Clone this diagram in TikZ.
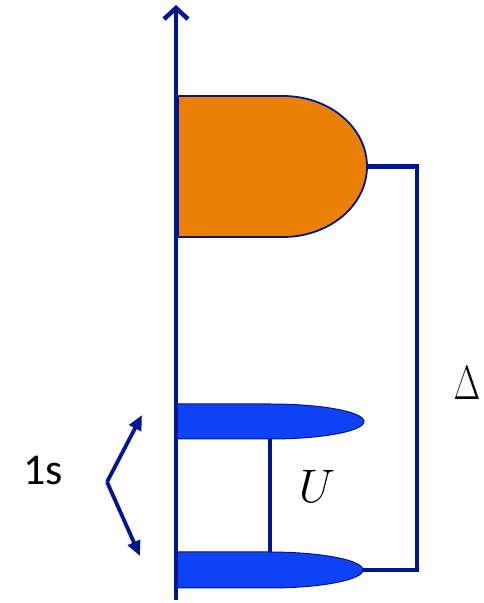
\RequirePackage{fix-cm}
\documentclass[tikz,border=0pt]{standalone}
\usepackage{fontspec}
\newfontfamily\calib{Carlito}
\usetikzlibrary{arrows.meta}
\definecolor{navy}{RGB}{0,22,140}
\definecolor{orangefill}{RGB}{235,128,6}
\definecolor{bluefill}{RGB}{15,65,245}
\tikzset{
  wire/.style={draw=navy, line width=4.5pt, line join=miter},
  shapeline/.style={draw=navy, line width=1.8pt},
  bracketarrow/.style={draw=navy, line width=3.8pt, -{Triangle[length=15pt,width=13pt]}},
  lbl/.style={inner sep=0pt, anchor=center}
}
\begin{document}
\begin{tikzpicture}[x=1pt,y=1pt]
\useasboundingbox (0,0) rectangle (484,603);
% named points
\coordinate (axisbot) at (176,3);
\coordinate (axistop) at (176,598);
\coordinate (otip) at (367,436.5);
\coordinate (wireR1) at (417,436.5);
\coordinate (wireR2) at (417,33);
\coordinate (btip) at (363,33);
\coordinate (ubot) at (270,164);
\coordinate (utop) at (270,51);
\coordinate (vertex) at (107,121);
\coordinate (tipup) at (142,188);
\coordinate (tipdown) at (140,47);
% orange shape
\path[fill=orangefill, shapeline] (178,507) -- (283,507)
  arc[start angle=90, end angle=-90, x radius=84, y radius=70.5]
  -- (178,366) -- cycle;
% top blue shape
\path[fill=bluefill, draw=navy, line width=1pt] (176,199) -- (270,199)
  arc[start angle=90, end angle=-90, x radius=94, y radius=17.5]
  -- (176,164) -- cycle;
% bottom blue shape
\path[fill=bluefill, draw=navy, line width=1pt] (176,51) -- (269,51)
  arc[start angle=90, end angle=-90, x radius=94, y radius=18]
  -- (176,15) -- cycle;
% axis
\draw[wire, -{Straight Barb[length=11pt,width=24pt,line width=4.5pt]}] (axisbot) -- (axistop);
% wire
\draw[wire] (otip) -- (wireR1) -- (wireR2) -- (btip);
% U connector
\draw[wire] (ubot) -- (utop);
% bracket arrows
\draw[bracketarrow] (vertex) -- (tipup);
\draw[bracketarrow] (vertex) -- (tipdown);
% labels
\node[lbl] (U) at (317,117) {\fontsize{47}{47}\selectfont $U$};
\node[lbl] (D) at (467,220) {\scalebox{0.72}[1]{\fontsize{48}{48}\selectfont $\Delta$}};
\node[lbl] (s) at (43,132) {\calib\fontsize{44}{44}\selectfont 1s};
\end{tikzpicture}
\end{document}
